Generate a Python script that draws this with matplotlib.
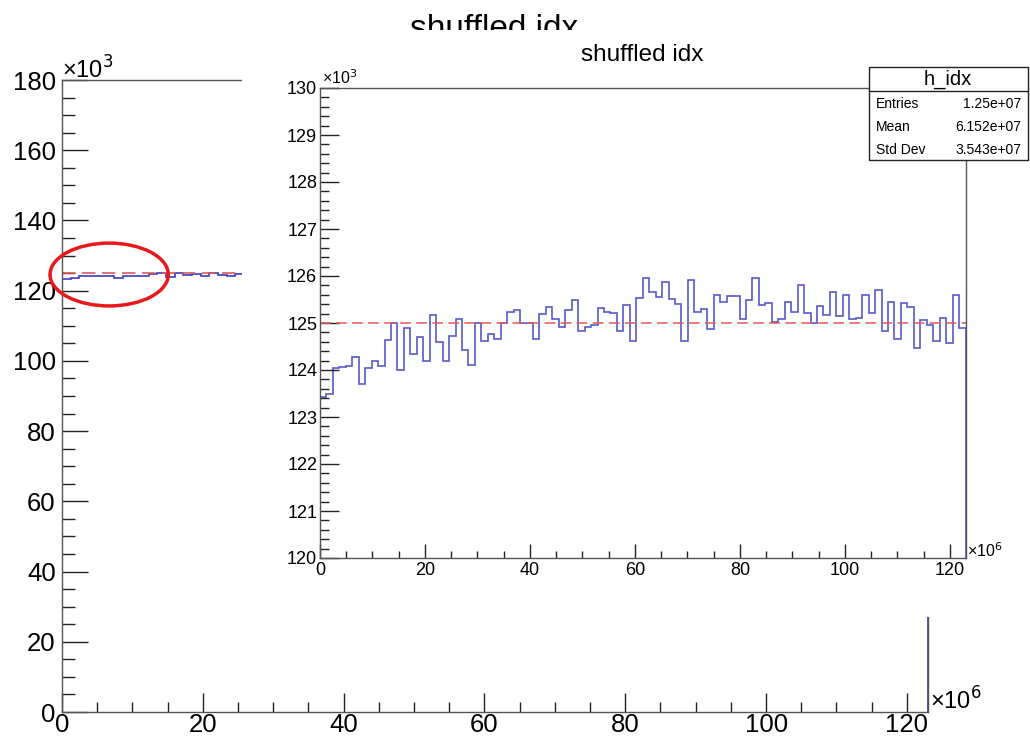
import numpy as np
import matplotlib
matplotlib.use("Agg")
import matplotlib.pyplot as plt
from matplotlib.patches import Rectangle, Ellipse
from matplotlib.ticker import MultipleLocator

plt.rcParams['font.family'] = ['Liberation Sans', 'DejaVu Sans']

# ---- data (x in units of 1e6, counts in units of 1e3) ----
x_min, x_max = 0.0, 123.0
counts = [
    123.43, 123.48, 124.05, 124.07, 124.09, 124.27, 123.70, 124.05, 124.20, 124.09,
    124.63, 125.01, 124.00, 124.89, 124.33, 124.71, 124.20, 125.16, 124.60, 124.20,
    124.73, 125.08, 124.43, 124.11, 125.01, 124.62, 124.76, 124.67, 124.99, 125.23,
    125.28, 124.99, 125.01, 124.65, 125.19, 125.33, 125.08, 124.91, 125.28, 125.49,
    124.82, 124.91, 124.96, 125.31, 125.23, 125.22, 124.84, 125.39, 124.62, 125.53,
    125.96, 125.66, 125.56, 125.87, 125.51, 125.40, 124.62, 125.92, 125.24, 125.30,
    124.87, 125.60, 125.44, 125.58, 125.58, 125.09, 125.49, 125.95, 125.38, 125.42,
    125.03, 125.09, 125.44, 125.24, 125.81, 125.22, 124.99, 125.37, 125.16, 125.66,
    125.14, 125.60, 125.08, 125.10, 125.60, 125.22, 125.71, 124.84, 125.45, 124.66,
    125.43, 125.35, 124.47, 125.07, 124.95, 124.62, 125.11, 124.58, 125.60, 124.90,
]
expected = 125.0
title = "shuffled idx"
hist_name = "h_idx"
stat_names = ["Entries", "Mean", "Std Dev"]
stat_values = ["1.25e+07", "6.152e+07", "3.543e+07"]
outer_xticks = [0, 20, 40, 60, 80, 100, 120]
outer_yticks = [0, 20, 40, 60, 80, 100, 120, 140, 160, 180]
inset_xticks = [0, 20, 40, 60, 80, 100, 120]
inset_yticks = [120, 121, 122, 123, 124, 125, 126, 127, 128, 129, 130]

edges = np.linspace(x_min, x_max, len(counts) + 1)

W, H = 1030, 739
fig = plt.figure(figsize=(W / 100, H / 100), dpi=100)

def fx(px):
    return px / W

def fy(py):
    return 1 - py / H

def pt(px):
    return px * 72 / 100

hist_color = '#3c3cc0'
line_red = '#e05a5a'
frame_col = '#555555'

def style_axes(ax, xmaj, xmin, ymaj, ymin, fs, xpad=2, ypad=2):
    for s in ax.spines.values():
        s.set_color(frame_col)
        s.set_linewidth(1.0)
    ax.tick_params(axis='x', which='major', direction='in', length=pt(xmaj), width=1, color='#222222',
                   labelsize=fs, pad=xpad, top=False)
    ax.tick_params(axis='x', which='minor', direction='in', length=pt(xmin), width=1, color='#222222', top=False)
    ax.tick_params(axis='y', which='major', direction='in', length=pt(ymaj), width=1, color='#222222',
                   labelsize=fs, pad=ypad, right=False)
    ax.tick_params(axis='y', which='minor', direction='in', length=pt(ymin), width=1, color='#222222', right=False)

# ---- outer axes ----
ax = fig.add_axes([fx(62), fy(712), fx(928) - fx(62), fy(80) - fy(712)])
ax.set_zorder(0)
ax.stairs(counts, edges, color=hist_color, linewidth=1.2)
ax.axhline(expected, color=line_red, linewidth=1.2, linestyle=(0, (8, 4)))
ax.set_xlim(x_min, x_max)
ax.set_ylim(0, 180)
ax.set_xticks(outer_xticks)
ax.set_yticks(outer_yticks)
ax.xaxis.set_minor_locator(MultipleLocator(5))
ax.yaxis.set_minor_locator(MultipleLocator(5))
style_axes(ax, 19, 10, 26, 13, 18.5, xpad=1, ypad=4.5)
ell = Ellipse((6.7, 124.6), width=16.8, height=17.9, fill=False, edgecolor='#e8181c', linewidth=2.5,
              zorder=5, clip_on=False)
ax.add_patch(ell)

fig.text(fx(62), fy(79), "\u00d710$^3$", fontsize=17, ha='left', va='baseline')
fig.text(fx(930), fy(710), "\u00d710$^6$", fontsize=17, ha='left', va='baseline')

# outer title (mostly hidden by the inset pad)
fig.text(fx(494), fy(38), title, fontsize=24, ha='center', va='baseline', zorder=0.5)

# ---- inset pad (white) ----
pad = Rectangle((fx(242), fy(617)), fx(1030) - fx(242) + 0.01, fy(30) - fy(617),
                transform=fig.transFigure, facecolor='white', edgecolor='none', zorder=1)
fig.patches.append(pad)

# ---- inset axes ----
ai = fig.add_axes([fx(320), fy(558), fx(965.5) - fx(320), fy(88) - fy(558)])
ai.set_zorder(2)
ai.stairs(counts, edges, color=hist_color, linewidth=1.2, alpha=0.85)
ai.axhline(expected, color=line_red, linewidth=1.1, linestyle=(0, (7, 3.5)))
ai.set_xlim(x_min, x_max)
ai.set_ylim(120, 130)
ai.set_xticks(inset_xticks)
ai.set_yticks(inset_yticks)
ai.xaxis.set_minor_locator(MultipleLocator(5))
ai.yaxis.set_minor_locator(MultipleLocator(0.2))
style_axes(ai, 14, 7, 19, 9, 13, xpad=3, ypad=2)

fig.text(fx(322), fy(84), "\u00d710$^3$", fontsize=11.5, ha='left', va='baseline', zorder=3)
fig.text(fx(967), fy(557), "\u00d710$^6$", fontsize=11.5, ha='left', va='baseline', zorder=3)
fig.text(fx(642), fy(61), title, fontsize=17.5, ha='center', va='baseline', zorder=3)

# ---- stats box ----
bx0, bx1, by0, by1 = 869, 1028, 67, 160
box = Rectangle((fx(bx0), fy(by1)), fx(bx1) - fx(bx0), fy(by0) - fy(by1), transform=fig.transFigure,
                facecolor='white', edgecolor='#222222', linewidth=1.0, zorder=4)
fig.patches.append(box)
fig.add_artist(plt.Line2D([fx(bx0), fx(bx1)], [fy(91), fy(91)], transform=fig.transFigure,
                          color='#222222', linewidth=1.0, zorder=5))
fig.text(fx(948), fy(79), hist_name, fontsize=14.5, ha='center', va='center', zorder=6)
for i, (n, v) in enumerate(zip(stat_names, stat_values)):
    yy = 104 + i * 23
    fig.text(fx(876), fy(yy), n, fontsize=10, ha='left', va='center', zorder=6)
    fig.text(fx(1021), fy(yy), v, fontsize=10, ha='right', va='center', zorder=6)

fig.savefig("out.png", dpi=100, facecolor='white')
